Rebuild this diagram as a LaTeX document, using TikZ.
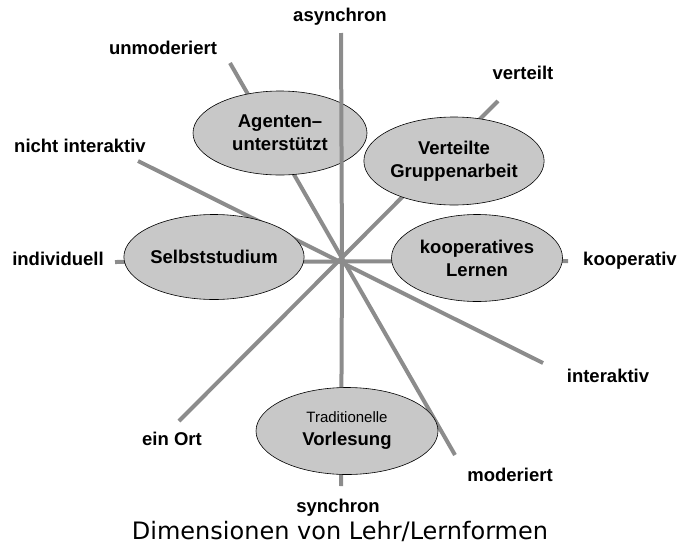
\documentclass[tikz,border=0pt]{standalone}
\usepackage{fontspec}
\setmainfont{Liberation Sans}
\newfontfamily\titlefont{DejaVu Sans}
\usetikzlibrary{shapes.geometric}
\definecolor{axisgray}{HTML}{8C8C8C}
\definecolor{ellfill}{HTML}{C8C8C8}
\begin{document}
\begin{tikzpicture}[x=1pt,y=-1pt,
  axis/.style={draw=axisgray,line width=4pt},
  blob/.style={ellipse,draw=black,line width=0.6pt,fill=ellfill,inner sep=0pt,
    align=center,font=\fontsize{18.5}{23}\selectfont\bfseries},
  lab/.style={font=\fontsize{18.5}{22}\selectfont\bfseries,inner sep=0pt}]
\useasboundingbox (0,0) rectangle (678,544);
% axis endpoints
\coordinate (c) at (342,261);
\coordinate (asy) at (341,33);
\coordinate (syn) at (341,486);
\coordinate (unm) at (230,63);
\coordinate (mod) at (455,455);
\coordinate (ver) at (498,101);
\coordinate (ein) at (179,421);
\coordinate (nin) at (138,161);
\coordinate (int) at (543,363);
\coordinate (ind) at (115,262);
\coordinate (koo) at (568,261);
\draw[axis] (unm) -- (mod);
\draw[axis] (ver) -- (ein);
\draw[axis] (nin) -- (int);
\draw[axis] (ind) -- (koo);
\draw[axis] (c) -- (syn);
% ellipses
\node[blob,minimum width=174pt,minimum height=84pt] (agent) at (280,133) {Agenten--\\unterstützt};
\node[blob,minimum width=172pt,minimum height=88pt] (vert) at (454,161) {Verteilte\\Gruppenarbeit};
\node[blob,minimum width=172pt,minimum height=85pt] (selbst) at (214,257) {Selbststudium};
\node[blob,minimum width=171pt,minimum height=87pt] (koop) at (477,258) {kooperatives\\Lernen};
\node[blob,minimum width=182pt,minimum height=87pt] (vorl) at (347,431) {{\fontsize{15}{23}\selectfont\mdseries Traditionelle}\\Vorlesung};
\draw[axis] (asy) -- (c);
% labels
\node[lab] (lasy) at (340,17) {asynchron};
\node[lab] (lunm) at (163,48) {unmoderiert};
\node[lab] (lver) at (523,73) {verteilt};
\node[lab] (lnin) at (80,146) {nicht interaktiv};
\node[lab] (lind) at (58,259) {individuell};
\node[lab] (lkoo) at (630,261) {kooperativ};
\node[lab] (lint) at (608,376) {interaktiv};
\node[lab] (lmod) at (510,475) {moderiert};
\node[lab] (lein) at (172,439) {ein Ort};
\node[lab] (lsyn) at (338,508) {synchron};
\node[font=\titlefont\fontsize{24}{28}\selectfont,inner sep=0pt] (title) at (340,531) {Dimensionen von Lehr/Lernformen};
\end{tikzpicture}
\end{document}
